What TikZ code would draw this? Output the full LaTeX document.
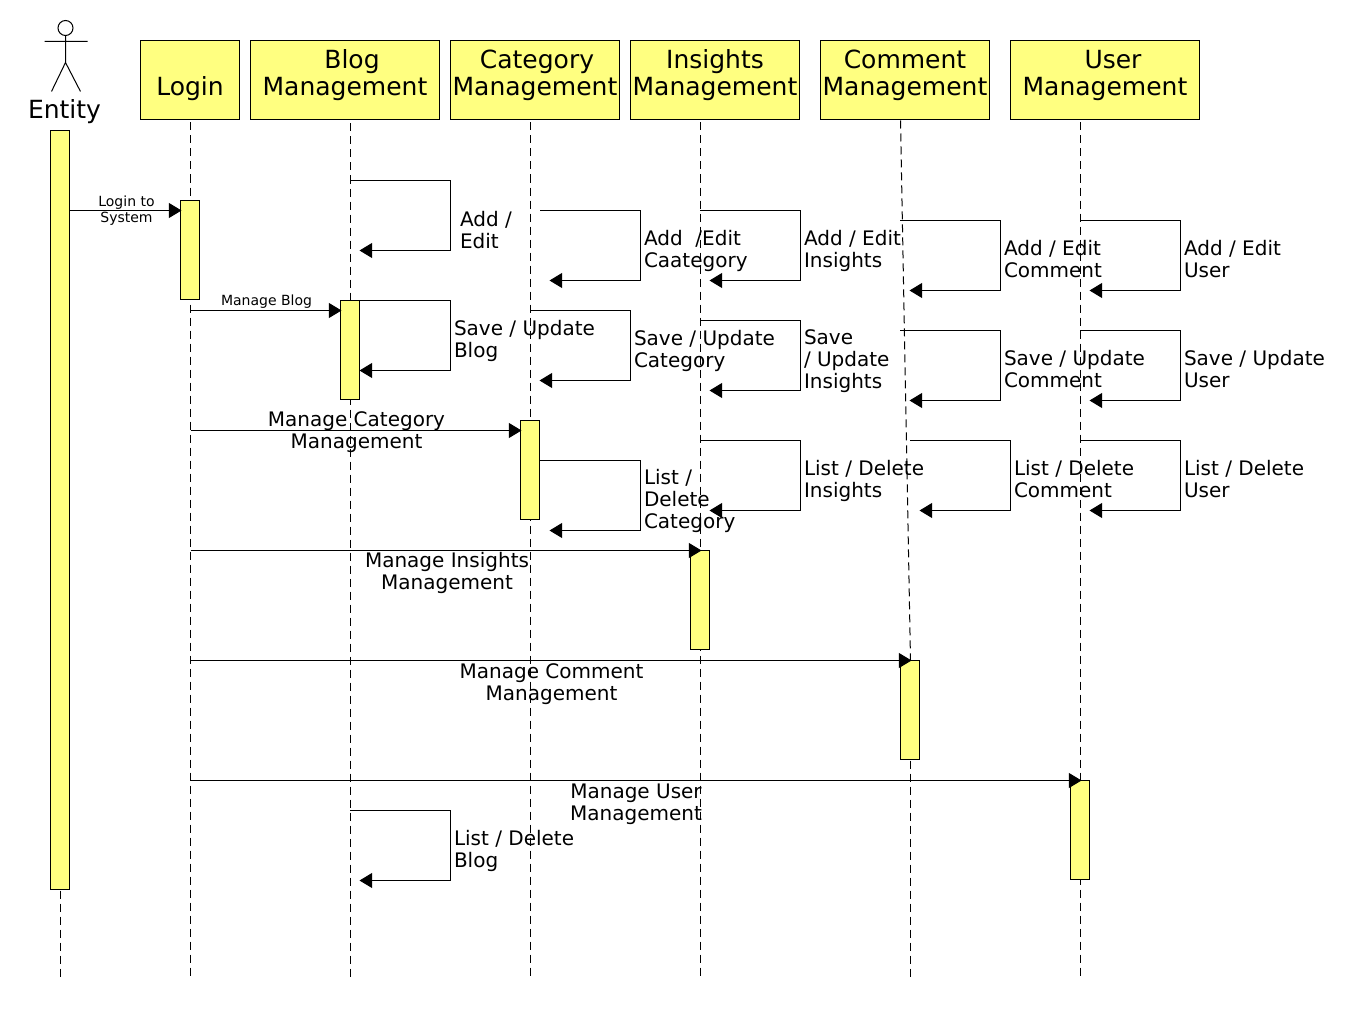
\documentclass[tikz,border=0pt]{standalone}
\usepackage{fontspec}
\setmainfont{DejaVu Sans}
\usetikzlibrary{arrows.meta}
\definecolor{umlfill}{HTML}{FFFF80}
\tikzset{
  x=0.75pt,y=-0.75pt,
  every path/.style={line width=0.75pt},
  headbox/.style={draw=black,fill=umlfill,rectangle,anchor=north west,inner sep=0pt,outer sep=0pt,minimum height=59.25pt,align=center,text depth=11.5pt,font=\fontsize{18.75pt}{20.25pt}\selectfont},
  bar/.style={draw=black,fill=umlfill,rectangle,anchor=north west,inner sep=0pt,outer sep=0pt,minimum width=14.25pt},
  life/.style={draw=black,dash pattern=on 6pt off 3.75pt},
  msg/.style={draw=black,-{Triangle[length=9.5pt,width=11.25pt,fill=black]}},
  label/.style={inner sep=0pt,outer sep=0pt,align=center,font=\fontsize{15pt}{16.5pt}\selectfont},
  side/.style={inner sep=0pt,outer sep=0pt,anchor=west,align=left,font=\fontsize{15pt}{16.5pt}\selectfont},
  small/.style={inner sep=0pt,outer sep=0pt,align=center,font=\fontsize{10.5pt}{12pt}\selectfont},
}
% name, x start, y start, x turn, y end, x tip, label x, label y, text
\newcommand{\selfcall}[9]{%
  \coordinate (#1a) at (#2,#3);
  \coordinate (#1t) at (#4,#5);
  \coordinate (#1b) at (#6,#5);
  \draw[msg] (#1a) -| (#1t) -- (#1b);
  \node[side] (#1l) at (#7,#8) {#9};
}
\begin{document}
\begin{tikzpicture}
\useasboundingbox (-0.5,-0.5) rectangle (1359.5,1019.5);
\fill[white] (-0.5,-0.5) rectangle (1359.5,1019.5);

% header boxes
\node[headbox,minimum width=74.25pt]  (login) at (140,40)  {\vphantom{Blog}\\Login};
\node[headbox,minimum width=141.75pt] (blog)  at (250,40)  {\vphantom{Blog}\hspace*{10.5pt}Blog\\Management};
\node[headbox,minimum width=126.75pt] (cat)   at (450,40)  {\vphantom{Blog}\hspace*{3pt}Category\\Management};
\node[headbox,minimum width=126.75pt] (ins)   at (630,40)  {\vphantom{Blog}Insights\\Management};
\node[headbox,minimum width=126.75pt] (com)   at (820,40)  {\vphantom{Blog}Comment\\Management};
\node[headbox,minimum width=141.75pt] (user)  at (1010,40) {\vphantom{Blog}\hspace*{12pt}User\\Management};

% lifeline ends
\coordinate (e1) at (60,890);   \coordinate (e2) at (60,977);
\coordinate (l1) at (190,122);  \coordinate (l2) at (190,977);
\coordinate (b1) at (350,123);  \coordinate (b2) at (350,977);
\coordinate (c1) at (530,122);  \coordinate (c2) at (530,977);
\coordinate (i1) at (700,122);  \coordinate (i2) at (700,977);
\coordinate (m1) at (900,120);  \coordinate (m2) at (910,660);
\coordinate (m3) at (910,760);  \coordinate (m4) at (910,977);
\coordinate (u1) at (1080,122); \coordinate (u2) at (1080,980);
\draw[life] (e1) -- (e2);
\draw[life] (l1) -- (l2);
\draw[life] (b1) -- (b2);
\draw[life] (c1) -- (c2);
\draw[life] (i1) -- (i2);
\draw[life] (m1) -- (m2);
\draw[life] (m3) -- (m4);
\draw[life] (u1) -- (u2);

% actor
\draw (65,27.5) circle[radius=7.5];
\draw (65,35) -- (65,62) (44,41) -- (87,41) (51,91) -- (65,62) -- (80,91);
\node[inner sep=0pt,font=\fontsize{18.75pt}{20.25pt}\selectfont] (entity) at (64,111) {Entity};

% activation bars
\node[bar,minimum height=569.25pt] (ebar) at (50,130)   {};
\node[bar,minimum height=74.25pt]  (lbar) at (180,200)  {};
\node[bar,minimum height=74.25pt]  (bbar) at (340,300)  {};
\node[bar,minimum height=74.25pt]  (cbar) at (520,420)  {};
\node[bar,minimum height=74.25pt]  (ibar) at (690,550)  {};
\node[bar,minimum height=74.25pt]  (mbar) at (900,660)  {};
\node[bar,minimum height=74.25pt]  (ubar) at (1070,780) {};

% calls between lifelines
\coordinate (s1) at (69,210);   \coordinate (t1) at (181,210);
\coordinate (s2) at (190,310);  \coordinate (t2) at (341,310);
\coordinate (s3) at (190,430);  \coordinate (t3) at (521,430);
\coordinate (s4) at (190,550);  \coordinate (t4) at (701,550);
\coordinate (s5) at (190,660);  \coordinate (t5) at (911,660);
\coordinate (s6) at (190,780);  \coordinate (t6) at (1081,780);
\draw[msg] (s1) -- (t1);
\draw[msg] (s2) -- (t2);
\draw[msg] (s3) -- (t3);
\draw[msg] (s4) -- (t4);
\draw[msg] (s5) -- (t5);
\draw[msg] (s6) -- (t6);
\node[small] (n1) at (126,210) {Login to\\System};
\node[small] (n2) at (266,301) {Manage Blog};
\node[label] (n3) at (356,432) {Manage Category\\Management};
\node[label] (n4) at (446.5,572.5) {Manage Insights\\Management};
\node[label] (n5) at (551,683.5) {Manage Comment\\Management};
\node[label] (n6) at (635.5,803.5) {Manage User\\Management};

% self calls
\selfcall{ba}{350}{180}{450}{250}{359}{459.5}{230}{Add /\\Edit}
\selfcall{ca}{539.5}{210}{640}{280}{549}{643.5}{250}{Add\ \ /Edit\\Caategory}
\selfcall{ia}{699.5}{210}{800}{280}{709}{803.5}{250}{Add / Edit\\Insights}
\selfcall{ma}{899.5}{220}{1000}{290}{909}{1003.5}{259}{Add / Edit\\Comment}
\selfcall{ua}{1079.5}{220}{1180}{290}{1089}{1183.5}{259}{Add / Edit\\User}
\selfcall{bs}{359.5}{300}{450}{370}{359}{453.5}{340}{Save / Update\\Blog}
\selfcall{cs}{529.5}{310}{630}{380}{539}{633.5}{350}{Save / Update\\Category}
\selfcall{is}{699.5}{320}{800}{390}{709}{803.5}{361}{Save\\/ Update\\Insights}
\selfcall{ms}{899.5}{330}{1000}{400}{909}{1003.5}{369}{Save / Update\\Comment}
\selfcall{us}{1079.5}{330}{1180}{400}{1089}{1183.5}{369}{Save / Update\\User}
\selfcall{cl}{539.5}{460}{640}{530}{549}{643.5}{500}{List /\\Delete\\Category}
\selfcall{il}{699.5}{440}{800}{510}{709}{803.5}{480}{List / Delete\\Insights}
\selfcall{ml}{909.5}{440}{1010}{510}{919}{1013.5}{479}{List / Delete\\Comment}
\selfcall{ul}{1079.5}{440}{1180}{510}{1089}{1183.5}{479}{List / Delete\\User}
\selfcall{bl}{349.5}{810}{450}{880}{359}{453.5}{850}{List / Delete\\Blog}
\end{tikzpicture}
\end{document}
